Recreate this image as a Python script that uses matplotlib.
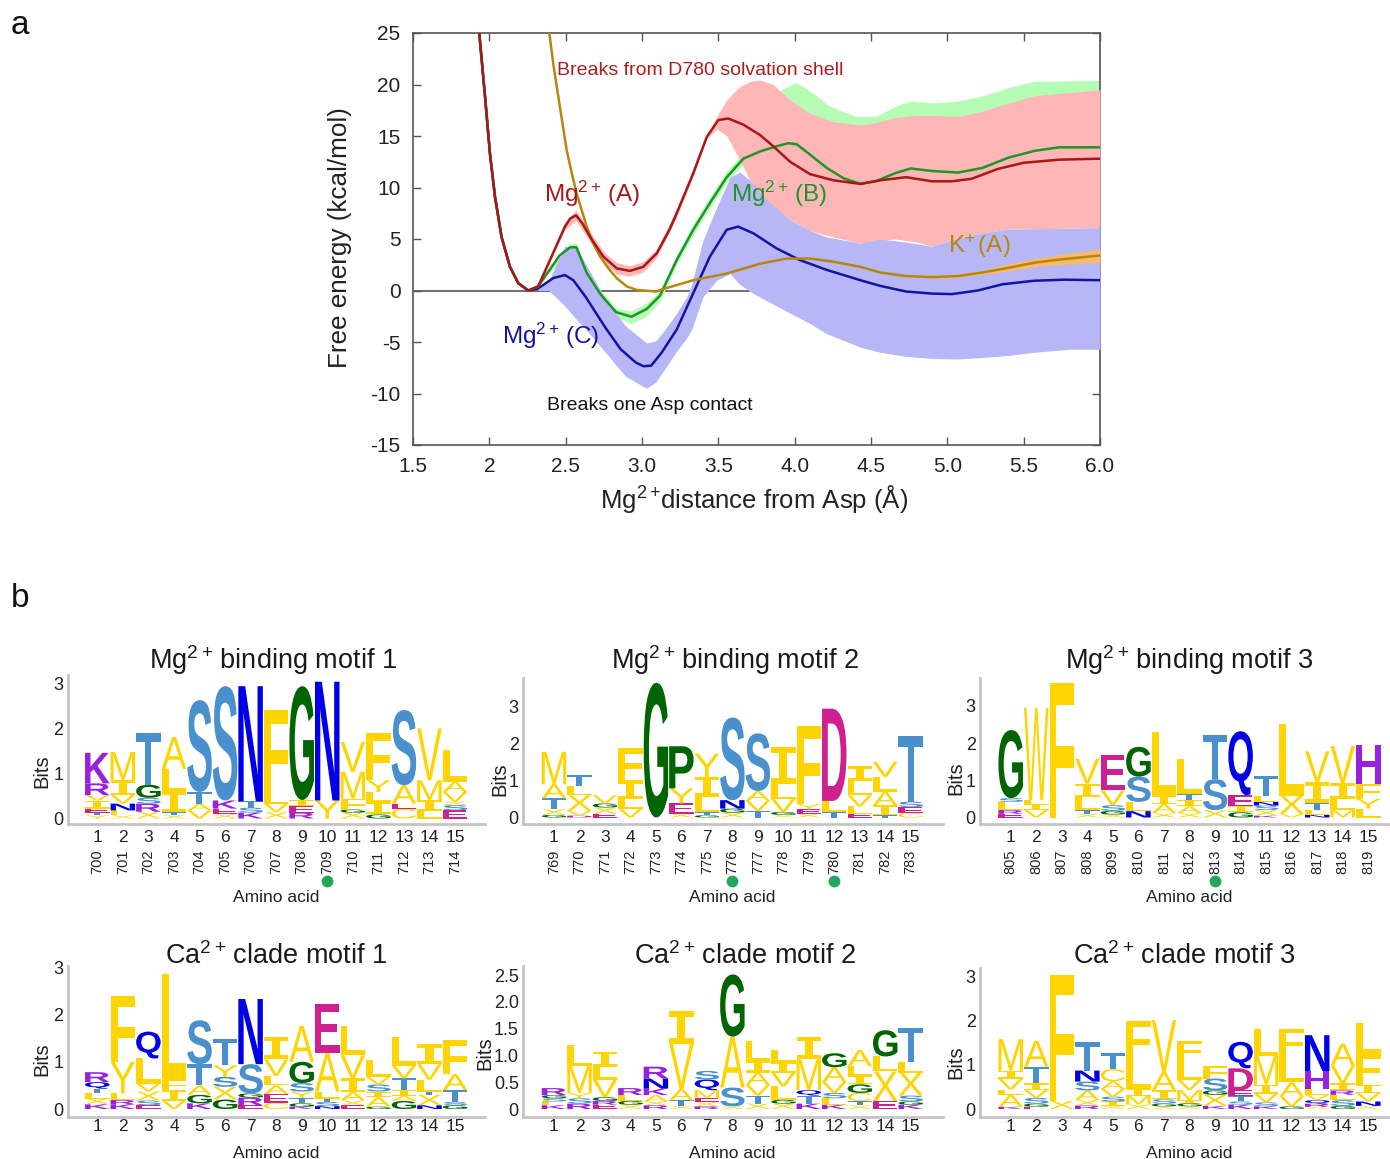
import numpy as np
import matplotlib
matplotlib.use('Agg')
import matplotlib.pyplot as plt
from matplotlib.font_manager import FontProperties
from matplotlib.patches import PathPatch
from matplotlib.path import Path
from matplotlib.textpath import TextPath
from matplotlib.transforms import Affine2D

plt.rcParams['font.family'] = ['Liberation Sans', 'DejaVu Sans']
plt.rcParams['mathtext.fontset'] = 'custom'
plt.rcParams['mathtext.rm'] = 'Liberation Sans'
plt.rcParams['mathtext.default'] = 'regular'

W, H = 1390, 1159

# panel a: free energy curves
red_x = [1.934, 1.972, 2.004, 2.037, 2.08, 2.135, 2.19, 2.255, 2.32, 2.397, 2.495, 2.53, 2.568, 2.61, 2.66, 2.746, 2.834, 2.92, 3.008,
         3.096, 3.18, 3.227, 3.336, 3.424, 3.5, 3.565, 3.664, 3.773, 3.86, 3.97, 4.1, 4.253, 4.43, 4.56, 4.73, 4.9, 5.03, 5.16,
         5.33, 5.5, 5.73, 6.0]
red_y = [25, 18.8, 13.3, 9.1, 5.2, 2.3, 0.7, 0, 0.4, 2.95, 6.2, 7, 7.3, 6.5, 5.2, 3.3, 2.15, 1.9, 2.3,
         3.6, 5.9, 7.5, 11.4, 14.9, 16.55, 16.7, 16.1, 15.1, 14, 12.5, 11.3, 10.7, 10.35, 10.7, 11.0, 10.6, 10.6, 10.85,
         11.8, 12.4, 12.7, 12.8]
green_x = [1.934, 1.972, 2.004, 2.037, 2.08, 2.135, 2.19, 2.255, 2.32, 2.39, 2.46, 2.53, 2.57, 2.638, 2.73, 2.83, 2.93, 3.03, 3.118,
           3.227, 3.336, 3.445, 3.555, 3.664, 3.773, 3.88, 3.958, 4.013, 4.1, 4.21, 4.32, 4.43, 4.53, 4.66, 4.76, 4.9, 5.07,
           5.23, 5.4, 5.57, 5.73, 6.0]
green_y = [25, 18.8, 13.3, 9.1, 5.2, 2.3, 0.7, 0, 0.4, 1.9, 3.4, 4.2, 4.2, 1.7, -0.4, -2.1, -2.55, -1.8, -0.5,
           2.95, 5.9, 8.5, 11, 12.8, 13.5, 14, 14.3, 14.2, 13.2, 11.9, 10.9, 10.35, 10.6, 11.4, 11.85, 11.6, 11.45,
           11.9, 12.9, 13.55, 13.9, 13.9]
blue_x = [1.934, 1.972, 2.004, 2.037, 2.08, 2.135, 2.19, 2.255, 2.32, 2.418, 2.495, 2.55, 2.63, 2.76, 2.86, 2.96, 3.01, 3.06, 3.13,
          3.227, 3.336, 3.445, 3.555, 3.63, 3.73, 3.88, 4.035, 4.21, 4.43, 4.56, 4.73, 4.9, 5.03, 5.2, 5.36, 5.57, 5.77, 6.0]
blue_y = [25, 18.8, 13.3, 9.1, 5.2, 2.3, 0.7, 0, 0.2, 1.2, 1.5, 1.0, -0.6, -3.6, -5.7, -7, -7.35, -7.3, -6,
          -3.8, -0.25, 3.3, 5.9, 6.2, 5.55, 4.1, 2.95, 2.0, 1.0, 0.45, -0.1, -0.3, -0.35, 0, 0.6, 0.95, 1.05, 1.0]
gold_x = [2.393, 2.419, 2.452, 2.507, 2.54, 2.572, 2.638, 2.68, 2.725, 2.78, 2.834, 2.9, 2.965, 3.096, 3.118, 3.336, 3.555, 3.773, 3.948,
          4.1, 4.253, 4.43, 4.56, 4.73, 4.9, 5.07, 5.23, 5.4, 5.57, 5.73, 6.0]
gold_y = [25, 22, 18.8, 13.6, 11.4, 9.4, 6.2, 4.6, 3.3, 2.15, 1.2, 0.4, 0.05, -0.1, 0.05, 1.0, 1.65, 2.6, 3.1,
          3.1, 2.8, 2.3, 1.75, 1.4, 1.3, 1.4, 1.75, 2.2, 2.7, 3.0, 3.4]

# error bands
band_red_x = [2.32, 2.397, 2.495, 2.568, 2.66, 2.746, 2.834, 2.92, 3.008, 3.096, 3.227, 3.336, 3.424, 3.49, 3.555, 3.64, 3.707, 3.77,
              3.86, 3.97, 4.1, 4.25, 4.43, 4.53, 4.66, 4.8, 4.9, 5.07, 5.23, 5.4, 5.57, 6.0]
band_red_hi = [0.5, 3.1, 6.6, 7.8, 5.7, 3.8, 2.7, 2.4, 2.8, 4.0, 7.9, 11.7, 15.1, 16.9, 18.5, 19.8, 20.3, 20.45,
               20, 18.5, 17.2, 16.4, 16.07, 16.3, 16.8, 17, 17, 16.9, 17.4, 18.2, 18.9, 19.5]
band_red_lo = [0.3, 2.8, 5.9, 6.8, 4.7, 2.8, 1.6, 1.4, 1.8, 3.2, 7.1, 11.1, 14.7, 15.7, 15.0, 12.7, 10.7, 9.4,
               8.1, 6.85, 5.8, 5.2, 4.6, 4.8, 5, 4.7, 4.3, 5.1, 5.6, 5.95, 6, 6.1]
band_green_x = [2.39, 2.53, 2.57, 2.638, 2.73, 2.83, 2.93, 3.03, 3.118, 3.227, 3.336, 3.445, 3.555, 3.664, 3.78, 3.91, 4.01, 4.09, 4.23,
                4.4, 4.53, 4.66, 4.76, 4.9, 5.07, 5.23, 5.4, 5.57, 6.0]
band_green_hi = [2.2, 4.6, 4.6, 2.1, 0.0, -1.7, -2.0, -1.2, 0.0, 3.5, 6.5, 9.1, 11.6, 13.4, 15.5, 19.5, 20.2, 19.5, 17.9,
                 16.9, 16.9, 17.9, 18.4, 18.2, 18.4, 18.9, 19.7, 20.3, 20.4]
band_green_lo = [1.6, 3.9, 3.9, 1.3, -0.9, -2.6, -3.2, -2.5, -1.0, 2.5, 5.4, 8.0, 10.5, 12.3, 12.2, 12, 11, 10, 9.5,
                 9, 9, 9, 9, 9, 9, 9, 8.5, 8, 8]
band_blue_x = [2.32, 2.39, 2.495, 2.57, 2.63, 2.76, 2.89, 3.03, 3.09, 3.15, 3.227, 3.293, 3.325, 3.4, 3.49, 3.577, 3.64, 3.707, 3.817, 3.97,
               4.1, 4.21, 4.43, 4.56, 4.73, 4.9, 5.07, 5.23, 5.4, 5.57, 5.8, 6.0]
band_blue_hi = [0.1, 1.0, 4.3, 4.2, 2.6, -0.85, -3.4, -5.1, -4.9, -3.8, -2.2, -0.6, 0.6, 4.9, 8.1, 11, 11.5, 10.7, 8.8, 6.85,
                5.8, 5.2, 4.6, 5, 4.7, 4.3, 5.1, 5.6, 5.95, 6, 6.05, 6.1]
band_blue_lo = [0, 0, -1.5, -2.8, -3.75, -6, -8.3, -9.5, -8.9, -7.6, -5.9, -4.6, -3.8, -0.6, 1.0, 1.65, 0.6, -0.1, -1.0, -2.2,
                -3.2, -4.2, -5.5, -6, -6.4, -6.6, -6.65, -6.5, -6.3, -6, -5.7, -5.7]
band_gold_x = [4.7, 5.0, 5.23, 5.4, 5.57, 5.73, 6.0]
band_gold_hi = [1.5, 1.5, 1.95, 2.6, 3.1, 3.5, 4.0]
band_gold_lo = [1.3, 1.2, 1.55, 1.9, 2.3, 2.5, 2.75]

xticks_a = [1.5, 2, 2.5, 3, 3.5, 4, 4.5, 5, 5.5, 6]
xticklabels_a = ['1.5', '2', '2.5', '3.0', '3.5', '4.0', '4.5', '5.0', '5.5', '6.0']
yticks_a = [-15, -10, -5, 0, 5, 10, 15, 20, 25]

# panel b: letter stacks, bottom to top, with cumulative top of each letter in bits
motif1_letters = ['YTEIVRK', 'XLNVIM', 'XRSGT', 'XTILA', 'VATS', 'XEKS', 'KSTN', 'XVLF', 'REIG', 'YN',
                  'XGFMV', 'GILYF', 'CEAS', 'LIMV', 'ESXVAL']
motif1_tops = [[.07, .13, .22, .40, .52, .78, 1.46], [.07, .18, .33, .52, .85, 1.48], [.15, .33, .46, .75, 1.89],
               [.07, .14, .6, 1.1, 1.81], [.18, .33, .59, 2.63], [.1, .22, .4, 2.94], [.13, .24, .38, 2.94],
               [.14, .33, .52, 2.41], [.13, .28, .41, 2.94], [.4, 3.04], [.13, .2, .44, 1.04, 1.7],
               [.09, .37, .59, .85, 1.9], [.22, .33, .74, 2.41], [.17, .41, .85, 2.0], [.18, .3, .37, .59, .82, 1.52]]
motif2_letters = ['GXTAM', 'DVXLT', 'EXGV', 'VLIF', 'G', 'XEYP', 'GTLIY', 'XGNS', 'TVAS', 'XGVLI',
                  'XEYF', 'TLD', 'ELVLI', 'TIALV', 'CEST']
motif2_tops = [[.07, .22, .52, .9, 1.78], [.05, .18, .6, .86, 1.15], [.1, .27, .38, .6], [.24, .5, 1.01, 1.87],
               [3.65], [.1, .38, .79, 1.93], [.06, .15, .56, 1.1, 1.73], [.13, .24, .47, 2.71], [.18, .45, .72, 2.28],
               [.07, .15, .5, .9, 1.92], [.1, .22, .36, 2.48], [.15, .45, 2.95], [.1, .3, .6, 1.0, 1.39],
               [.06, .33, .7, 1.1, 1.51], [.12, .28, .43, 2.2]]
motif3_letters = ['ERLSG', 'VILW', 'F', 'XTLIV', 'XGSVE', 'NLSG', 'XAIL', 'XAITL', 'XST', 'GIEQ',
                  'KXSNLT', 'VXL', 'NLTIV', 'MLIV', 'LYFH']
motif3_tops = [[.1, .2, .42, .52, 2.35], [.2, .35, .47, 2.95], [3.62], [.1, .2, .55, .91, 1.58], [.08, .18, .33, .73, 1.69],
               [.17, .42, 1.1, 1.9], [.12, .36, .6, 2.3], [.12, .3, .47, .62, 1.58], [.2, 1.03, 2.21], [.14, .3, .6, 2.32],
               [.05, .2, .32, .42, .58, 1.12], [.1, .58, 2.52], [.07, .2, .4, .95, 1.78], [.2, .5, .93, 1.92], [.24, .5, .9, 1.94]]
ca1_letters = ['KXLTQR', 'KRLYF', 'ESXVLQ', 'VIFL', 'KGATS', 'GXSYT', 'ERGSN', 'CEALVI', 'KGTYSGA', 'NSTLAE',
               'EXAIVL', 'GAISVL', 'GAITVL', 'NXTLVI', 'GSTAF']
ca1_tops = [[.1, .22, .33, .43, .57, .78], [.1, .19, .33, 1, 2.39], [.08, .18, .37, .54, 1.07, 1.64], [.18, .4, .62, 2.85],
            [.12, .3, .5, .95, 1.88], [.2, .47, .68, .93, 1.48], [.08, .24, .33, .95, 2.33], [.13, .32, .5, .7, 1.05, 1.53],
            [.05, .12, .24, .37, .55, 1.0, 1.76], [.06, .15, .22, .37, 1.18, 2.22], [.08, .18, .36, .65, 1.14, 1.76],
            [.05, .25, .37, .52, .68, 1.04], [.17, .28, .4, .65, .92, 1.53], [.08, .3, .37, .62, .95, 1.37], [.08, .15, .4, .74, 1.46]]
ca2_letters = ['KLSGR', 'RSYML', 'ERGVLI', 'XGLR', 'RXAKNR', 'XTAVI', 'RXEMQS', 'XSAG', 'XTVAIL', 'XGLVIL',
               'KTQMI', 'KLSVAG', 'XTCGILA', 'EXLG', 'KGSXLT']
ca2_tops = [[.07, .14, .2, .26, .39], [.1, .2, .3, .8, 1.19], [.08, .15, .22, .55, .79, 1.07], [.08, .15, .26, .39],
            [.07, .14, .26, .38, .57, .79], [.06, .16, .37, 1.22, 1.82], [.05, .13, .2, .35, .55, .71], [.05, .4, 1.35, 2.51],
            [.1, .25, .45, .68, .9, 1.26], [.1, .17, .42, .68, .88, 1.1], [.1, .25, .35, .93, 1.35], [.08, .2, .3, .5, .78, 1.04],
            [.07, .15, .3, .46, .62, .8, 1.1], [.15, .7, .98, 1.47], [.08, .14, .25, .68, .88, 1.52]]
ca3_letters = ['KALVIM', 'EGSVITA', 'XF', 'RXASNT', 'XISVACT', 'XMILF', 'XGSIAV', 'XGIMVLF', 'KXGSF', 'KSTEDQ',
               'KSVIML', 'GVALF', 'XRQVLHN', 'GSLRIVA', 'XNVIFL']
ca3_tops = [[.05, .32, .44, .68, .87, 1.58], [.05, .12, .25, .43, .58, .96, 1.54], [.18, 3.04], [.08, .2, .42, .62, .87, 1.51],
            [.07, .17, .28, .45, .63, .9, 1.26], [.1, .3, .45, 1.15, 1.99], [.06, .12, .22, .42, .84, 2.01],
            [.06, .13, .2, .43, .66, 1.1, 1.54], [.07, .32, .42, .69, .98], [.1, .17, .29, .42, .92, 1.52],
            [.06, .15, .35, .55, 1.2, 1.82], [.06, .28, .6, 1.2, 1.81], [.05, .12, .2, .32, .46, .86, 1.67],
            [.07, .2, .32, .42, .58, .98, 1.48], [.07, .17, .36, .55, 1.25, 1.94]]

residues1 = list(range(700, 715))
residues2 = list(range(769, 784))
residues3 = list(range(805, 820))
dots1 = [10]
dots2 = [8, 12]
dots3 = [9]

yellow = '#ffd400'
letter_colors = {}
for c in 'AFILMVWYCX':
    letter_colors[c] = yellow
for c in 'ST':
    letter_colors[c] = '#4a90cc'
for c in 'NQ':
    letter_colors[c] = '#0000e6'
for c in 'GP':
    letter_colors[c] = '#006400'
for c in 'DE':
    letter_colors[c] = '#d0208f'
for c in 'KRH':
    letter_colors[c] = '#9a20e0'

bold_font = FontProperties(family='Liberation Sans', weight='bold')
thin_font = FontProperties(family='Liberation Sans')
serif_i_font = FontProperties(family='DejaVu Sans Mono', weight='bold')


def px_axes(fig, left, top, right, bottom):
    return fig.add_axes([left / W, 1 - bottom / H, (right - left) / W, (bottom - top) / H])


def draw_letter(ax, letter, x, y0, y1, width=0.96):
    # the I needs serifs or it turns into a solid block, diagonals look better thin
    if letter == 'I':
        prop = serif_i_font
    elif letter in 'MVYAXWC':
        prop = thin_font
    else:
        prop = bold_font
    tp = TextPath((0, 0), letter, size=1, prop=prop)
    bb = tp.get_extents()
    t = Affine2D().translate(-bb.x0, -bb.y0).scale(width / bb.width, (y1 - y0) / bb.height).translate(x - width / 2, y0)
    ax.add_patch(PathPatch(t.transform_path(Path(tp.vertices, tp.codes)), fc=letter_colors[letter], ec='none', lw=0))


def draw_logo(fig, title, letters, tops, box, ppos, yrange, yticks, yticklabels, title_xy, bits_x, bottom_y, xpad,
              residues=None, dots=()):
    # box = left, top, right, bottom in pixels, ppos = pixel x of positions 1 and 15, yrange = pixel y of 0 and px per bit
    left, top, right, bottom = box
    px_unit = (ppos[1] - ppos[0]) / 14
    y0_px, px_bit = yrange
    ax = px_axes(fig, left, top, right, bottom)
    ax.set_xlim(1 + (left - ppos[0]) / px_unit, 1 + (right - ppos[0]) / px_unit)
    ax.set_ylim((y0_px - bottom) / px_bit, (y0_px - top) / px_bit)
    for i, (col, col_tops) in enumerate(zip(letters, tops)):
        prev = 0.0
        for c, t in zip(col, col_tops):
            draw_letter(ax, c, i + 1, prev, t)
            prev = t
    for s in ['top', 'right']:
        ax.spines[s].set_visible(False)
    for s in ['left', 'bottom']:
        ax.spines[s].set_color('#c4c4c4')
        ax.spines[s].set_linewidth(2)
    ax.set_xticks(range(1, 16))
    ax.set_xticklabels([str(i) for i in range(1, 16)], fontsize=12.5, color='#222222')
    ax.set_yticks(yticks)
    ax.set_yticklabels(yticklabels, fontsize=13, color='#222222')
    ax.tick_params(length=0)
    ax.tick_params(axis='x', pad=xpad)
    ax.tick_params(axis='y', pad=3)
    ax.set_facecolor('none')
    fig.text(title_xy[0] / W, 1 - title_xy[1] / H, title, fontsize=19.5, ha='center', va='center', color='#1a1a1a')
    fig.text(bits_x / W, 1 - (y0_px - 1.05 * px_bit) / H, 'Bits', fontsize=14.5, rotation=90, ha='center', va='center', color='#222222')
    fig.text((ppos[0] + ppos[1]) / 2 / W, 1 - bottom_y / H, 'Amino acid', fontsize=12.5, ha='center', va='center', color='#222222')
    frac = lambda py: (bottom - py) / (bottom - top)
    if residues is not None:
        for i, r in enumerate(residues):
            ax.text(i + 1, frac(862), str(r), rotation=90, fontsize=10.5, ha='center', va='center',
                    color='#222222', transform=ax.get_xaxis_transform(), clip_on=False)
        for d in dots:
            ax.plot([d], [frac(881)], 'o', ms=8.5, color='#21a65a', mec='none',
                    transform=ax.get_xaxis_transform(), clip_on=False)
    return ax


fig = plt.figure(figsize=(W / 100, H / 100), dpi=100, facecolor='white')

# panel a
ax = px_axes(fig, 413, 33, 1100, 445)
ax.set_xlim(1.5, 6)
ax.set_ylim(-15, 25)
ax.axhline(0, color='#555555', lw=1.2, zorder=1)
ax.fill_between(band_green_x, band_green_lo, band_green_hi, color='#b5fdb5', lw=0, zorder=2)
ax.fill_between(band_red_x, band_red_lo, band_red_hi, color='#ffb6b6', lw=0, zorder=3)
ax.fill_between(band_blue_x, band_blue_lo, band_blue_hi, color='#b7b7f7', lw=0, zorder=4)
ax.fill_between(band_gold_x, band_gold_lo, band_gold_hi, color='#f6bb6e', lw=0, zorder=5)
ax.plot(blue_x, blue_y, color='#1414a0', lw=1.8, zorder=6)
ax.plot(green_x, green_y, color='#1f9428', lw=1.8, zorder=7)
ax.plot(gold_x, gold_y, color='#b8860b', lw=1.8, zorder=8)
ax.plot(red_x, red_y, color='#a81818', lw=1.8, zorder=9)
ax.set_xticks(xticks_a)
ax.set_xticklabels(xticklabels_a, fontsize=15, color='#222222')
ax.set_yticks(yticks_a)
ax.set_yticklabels([str(v) for v in yticks_a], fontsize=15, color='#222222')
ax.tick_params(direction='in', top=True, right=True, length=6, width=1, color='#555555', pad=9)
for s in ax.spines.values():
    s.set_color('#555555')
    s.set_linewidth(1.2)
ax.text(2.67, 9.4, 'Mg$^{2+}$$\\!$ (A)', color='#a81818', fontsize=17.5, ha='center', va='center', zorder=10)
ax.text(3.9, 9.4, 'Mg$^{2+}$$\\!$ (B)', color='#1f9428', fontsize=17.5, ha='center', va='center', zorder=10)
ax.text(2.4, -4.4, 'Mg$^{2+}$$\\!$ (C)', color='#1414a0', fontsize=17.5, ha='center', va='center', zorder=10)
ax.text(5.21, 4.3, 'K$^{+}$$\\!$ (A)', color='#b8860b', fontsize=17.5, ha='center', va='center', zorder=10)
ax.text(3.38, 21.4, 'Breaks from D780 solvation shell', color='#b01c1c', fontsize=14, ha='center', va='center', zorder=10)
ax.text(3.05, -11.2, 'Breaks one Asp contact', color='#111111', fontsize=14, ha='center', va='center', zorder=10)
fig.text(340 / W, 1 - 238 / H, 'Free energy (kcal/mol)', fontsize=18.8, rotation=90, ha='center', va='center', color='#222222')
fig.text(754 / W, 1 - 499 / H, 'Mg$^{2+}$$\\!$distance from Asp (Å)', fontsize=18.5, ha='center', va='center', color='#222222')

fig.text(20 / W, 1 - 25 / H, 'a', fontsize=24, ha='center', va='center', color='#111111')
fig.text(20 / W, 1 - 599 / H, 'b', fontsize=24, ha='center', va='center', color='#111111')

# panel b
draw_logo(fig, 'Mg$^{2+}$$\\!$ binding motif 1', motif1_letters, motif1_tops, (67.7, 675, 485, 824), (97.3, 455), (818.5, 45),
          [0, 1, 2, 3], ['0', '1', '2', '3'], (273, 660), 42, 898, 4, residues1, dots1)
draw_logo(fig, 'Mg$^{2+}$$\\!$ binding motif 2', motif2_letters, motif2_tops, (523, 678, 943, 824), (554, 910.7), (817.5, 36.9),
          [0, 1, 2, 3], ['0', '1', '2', '3'], (735, 660), 500, 898, 4, residues2, dots2)
draw_logo(fig, 'Mg$^{2+}$$\\!$ binding motif 3', motif3_letters, motif3_tops, (980, 678, 1390, 824), (1010.7, 1368.3), (817.5, 37.2),
          [0, 1, 2, 3], ['0', '1', '2', '3'], (1189, 660), 956, 898, 4, residues3, dots3)
draw_logo(fig, 'Ca$^{2+}$$\\!$ clade motif 1', ca1_letters, ca1_tops, (67.7, 966, 485, 1116.7), (97.3, 455), (1109, 47.2),
          [0, 1, 2, 3], ['0', '1', '2', '3'], (276, 956), 42, 1153, 2)
draw_logo(fig, 'Ca$^{2+}$$\\!$ clade motif 2', ca2_letters, ca2_tops, (523, 966, 943, 1116.7), (554, 910.7), (1109, 53.6),
          [0, 0.5, 1, 1.5, 2, 2.5], ['0', '0.5', '1.0', '1.5', '2.0', '2.5'], (745, 956), 485, 1153, 2)
draw_logo(fig, 'Ca$^{2+}$$\\!$ clade motif 3', ca3_letters, ca3_tops, (980, 968, 1390, 1116.7), (1010.7, 1368.3), (1109, 44.2),
          [0, 1, 2, 3], ['0', '1', '2', '3'], (1184, 956), 956, 1153, 2)

fig.savefig('out.png', dpi=100)
